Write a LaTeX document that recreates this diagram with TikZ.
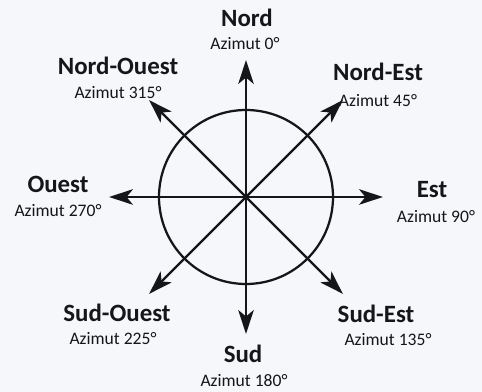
\documentclass[tikz,border=0pt]{standalone}
\usepackage{fontspec}
\setmainfont{Carlito}
\usepackage{xcolor}
\usetikzlibrary{arrows.meta, calc}
\definecolor{inkblack}{RGB}{22, 22, 24}
\definecolor{paper}{RGB}{245, 247, 251}
\tikzset{
    dirname/.style={anchor=base, font=\fontsize{17.7}{20}\selectfont\bfseries,
                    text=inkblack, inner sep=0pt},
    azim/.style={anchor=base, font=\fontsize{12.5}{14}\selectfont,
                 text=inkblack, inner sep=0pt},
}

\begin{document}
\begin{tikzpicture}[
    x=0.025cm, y=-0.025cm,
    arr/.style={-{Stealth[length=17pt, width=11pt, inset=4.5pt]},
                line width=1.6pt, draw=inkblack},
]
    % Background
    \fill[paper] (0,0) rectangle (482,392);
    \useasboundingbox (0,0) rectangle (482,392);

    % Center and circle
    \coordinate (c) at (246,197);
    \draw[line width=1.6pt, inkblack] (c) circle [radius=87];

    % Arrow tips (azimuth - 90)
    \coordinate (tipN)  at ($(c)+(-90:137)$);
    \coordinate (tipNE) at ($(c)+(-45:137)$);
    \coordinate (tipE)  at ($(c)+(0:137)$);
    \coordinate (tipSE) at ($(c)+(45:137)$);
    \coordinate (tipS)  at ($(c)+(90:137)$);
    \coordinate (tipSW) at ($(c)+(135:137)$);
    \coordinate (tipW)  at ($(c)+(180:137)$);
    \coordinate (tipNW) at ($(c)+(225:137)$);

    % Arrows
    \draw[arr] (c) -- (tipN);
    \draw[arr] (c) -- (tipNE);
    \draw[arr] (c) -- (tipE);
    \draw[arr] (c) -- (tipSE);
    \draw[arr] (c) -- (tipS);
    \draw[arr] (c) -- (tipSW);
    \draw[arr] (c) -- (tipW);
    \draw[arr] (c) -- (tipNW);

    % Labels
    \node[dirname] (nord) at (247,27) {Nord};
    \node[azim] (nordaz) at (245,50) {Azimut 0°};

    \node[dirname] (nordest) at (378,81) {Nord-Est};
    \node[azim] (nordestaz) at (378,107) {Azimut 45°};

    \node[dirname] (est) at (432,198) {Est};
    \node[azim] (estaz) at (436,223) {Azimut 90°};

    \node[dirname] (sudest) at (376,323) {Sud-Est};
    \node[azim] (sudestaz) at (388,346) {Azimut 135°};

    \node[dirname] (sud) at (243,363) {Sud};
    \node[azim] (sudaz) at (244,387) {Azimut 180°};

    \node[dirname] (sudouest) at (117,322) {Sud-Ouest};
    \node[azim] (sudouestaz) at (113,345) {Azimut 225°};

    \node[dirname] (ouest) at (58,193) {Ouest};
    \node[azim] (ouestaz) at (58,217) {Azimut 270°};

    \node[dirname] (nordouest) at (118,75) {Nord-Ouest};
    \node[azim] (nordouestaz) at (118,99) {Azimut 315°};
\end{tikzpicture}
\end{document}
